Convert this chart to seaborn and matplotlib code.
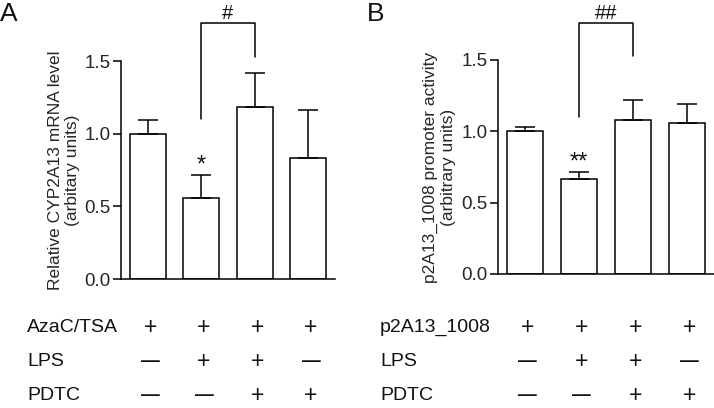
import matplotlib
matplotlib.use("Agg")
import matplotlib.pyplot as plt
import matplotlib.transforms as mtransforms
import seaborn as sns
import pandas as pd

# four treatment groups
groups = ["G1", "G2", "G3", "G4"]
mrna_mean = [1.00, 0.555, 1.185, 0.83]
mrna_err = [0.095, 0.16, 0.23, 0.335]
promoter_mean = [1.00, 0.668, 1.082, 1.061]
promoter_err = [0.03, 0.045, 0.135, 0.133]

first_row = ["+", "+", "+", "+"]
lps_row = ["\u2014", "+", "+", "\u2014"]
pdtc_row = ["\u2014", "\u2014", "+", "+"]

yticks = [0.0, 0.5, 1.0, 1.5]

sns.set_style("ticks")
plt.rcParams["font.family"] = ["Liberation Sans", "DejaVu Sans"]
plt.rcParams["text.color"] = "#111111"

fig = plt.figure(figsize=(7.14, 4.08), dpi=100)
ax_a = fig.add_axes([121 / 714, 1 - 279 / 408, 214 / 714, 218 / 408])
ax_b = fig.add_axes([498 / 714, 1 - 274 / 408, 216 / 714, 214 / 408])


def draw_panel(ax, means, errs, ylabel, label_x, star, hash_text, row_names, row_x, letter, letter_x):
    df = pd.DataFrame({"group": groups, "value": means})
    sns.barplot(data=df, x="group", y="value", ax=ax, color="white",
                edgecolor="black", linewidth=1.1, width=0.67, errorbar=None)
    ax.errorbar(range(len(groups)), means, yerr=[[0] * len(errs), errs],
                fmt="none", ecolor="black", elinewidth=1.1, capsize=7, capthick=1.1)
    ax.set_xlim(-0.5, 3.5)
    ax.set_ylim(0, 1.5)
    ax.set_yticks(yticks)
    ax.set_yticklabels([f"{t:.1f}" for t in yticks], fontsize=13.5)
    ax.tick_params(axis="y", length=5.5, width=1.1, color="black", pad=2)
    ax.tick_params(axis="x", length=0, labelbottom=False)
    ax.set_xlabel("")
    ax.set_ylabel(ylabel, fontsize=12.5, linespacing=1.2)
    ax.yaxis.set_label_coords(label_x, 0.5)
    for s in ["left", "bottom"]:
        ax.spines[s].set_linewidth(1.1)
        ax.spines[s].set_color("black")
    sns.despine(ax=ax)

    # significance marks
    ax.text(1, means[1] + errs[1] - 0.01, star, ha="center", va="bottom", fontsize=17)
    ax.plot([1, 1, 2, 2], [1.10, 1.76, 1.76, 1.53], color="black", lw=1.1, clip_on=False)
    ax.text(1.5, 1.825, hash_text, ha="center", va="center", fontsize=14.5)

    # treatment table under the bars
    trans = mtransforms.blended_transform_factory(ax.transData, fig.transFigure)
    row_y = [1 - 327 / 408, 1 - 362 / 408, 1 - 396 / 408]
    for name, syms, y in zip(row_names, [first_row, lps_row, pdtc_row], row_y):
        fig.text(row_x, y, name, ha="left", va="center", fontsize=14)
        for i, s in enumerate(syms):
            if s == "+":
                ax.text(i + 0.05, y, s, transform=trans, ha="center", va="center",
                        fontsize=16.5, clip_on=False)
            else:
                ax.text(i + 0.05, y, s, transform=trans, ha="center", va="center",
                        fontsize=13.5, fontweight="bold", clip_on=False)

    fig.text(letter_x, 0.995, letter, ha="left", va="top", fontsize=19)


draw_panel(ax_a, mrna_mean, mrna_err, "Relative CYP2A13 mRNA level\n(arbitary units)",
           -0.19, "*", "#", ["AzaC/TSA", "LPS", "PDTC"], 27 / 714, "A", 0.0)
draw_panel(ax_b, promoter_mean, promoter_err, "p2A13_1008 promoter activity\n(arbitrary units)",
           -0.195, "**", "##", ["p2A13_1008", "LPS", "PDTC"], 380 / 714, "B", 367 / 714)

fig.savefig("out.png", dpi=100)
plt.close(fig)
